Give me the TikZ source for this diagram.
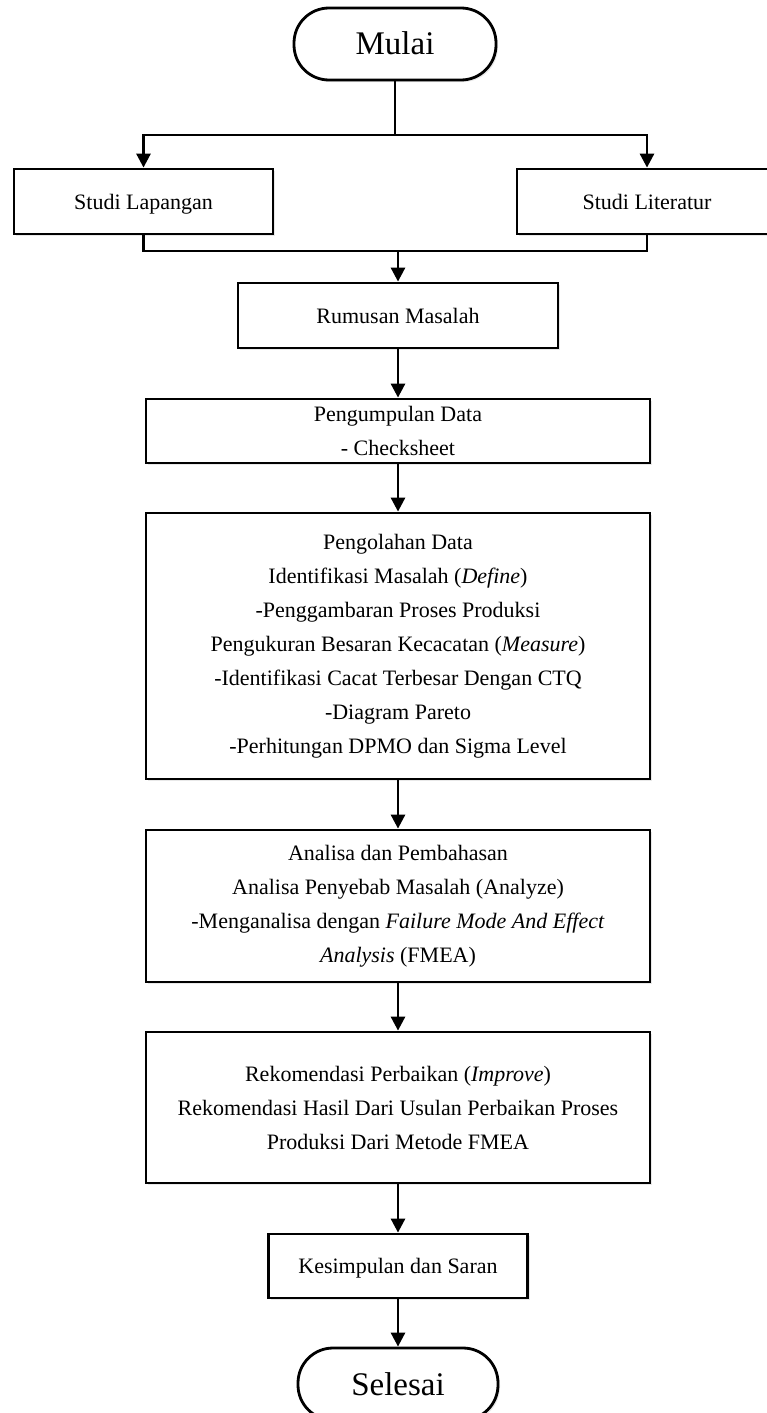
\documentclass[tikz,border=0pt]{standalone}
\usepackage{fontspec}
\setmainfont{Liberation Serif}
\usepackage{tikz}
\usetikzlibrary{arrows.meta, shadows}

\begin{document}
\begin{tikzpicture}[
    x=1pt, y=1pt,
    >={Triangle[length=14pt, width=14pt]},
    % Boxes
    terminal/.style={
        draw, fill=white, rounded corners=35pt, line width=2.8pt,
        minimum width=202pt, minimum height=72pt,
        text height=22pt, text depth=0pt,
        font=\fontsize{33}{40}\selectfont,
        drop shadow={opacity=0.18, shadow xshift=2pt, shadow yshift=-2pt}
    },
    process/.style={
        draw, fill=white, align=center, inner sep=2pt, line width=2.8pt,
        minimum width=504pt, minimum height=64pt,
        font=\fontsize{22}{34}\selectfont,
        drop shadow={opacity=0.18, shadow xshift=2pt, shadow yshift=-2pt}
    },
    oneline/.style={text height=15pt, text depth=0pt},
    % Lines
    link/.style={line width=2.8pt, line join=miter}
]

    \useasboundingbox (0,0) rectangle (766,-1413);

    % --- START ---
    \node[terminal] (mulai) at (395,-44) {Mulai};

    % --- STUDI ---
    \node[process, oneline, minimum width=259pt, minimum height=65pt] (lapangan) at (143.5,-201.5) {Studi Lapangan};
    \node[process, oneline, minimum width=260pt, minimum height=65pt] (literatur) at (647,-201.5) {Studi Literatur};

    \coordinate (split) at (395,-135);
    \coordinate (merge) at (398,-251);

    % --- MAIN STEPS ---
    \node[process, oneline, minimum width=320pt, minimum height=65pt] (rumusan) at (398,-315.5) {Rumusan Masalah};
    \node[process] (kumpul) at (398,-431) {Pengumpulan Data\\- Checksheet};
    \node[process, minimum height=266pt] (olah) at (398,-646) {Pengolahan Data\\
        Identifikasi Masalah (\textit{Define})\\
        -Penggambaran Proses Produksi\\
        Pengukuran Besaran Kecacatan (\textit{Measure})\\
        -Identifikasi Cacat Terbesar Dengan CTQ\\
        -Diagram Pareto\\
        -Perhitungan DPMO dan Sigma Level};
    \node[process, minimum height=152pt] (analisa) at (398,-906) {Analisa dan Pembahasan\\
        Analisa Penyebab Masalah (Analyze)\\
        -Menganalisa dengan \textit{Failure Mode And Effect}\\
        \textit{Analysis} (FMEA)};
    \node[process, minimum height=151pt] (rekom) at (398,-1107.5) {Rekomendasi Perbaikan (\textit{Improve})\\
        Rekomendasi Hasil Dari Usulan Perbaikan Proses\\
        Produksi Dari Metode FMEA};
    \node[process, oneline, minimum width=259pt] (simpul) at (398,-1266) {Kesimpulan dan Saran};

    % --- END ---
    \node[terminal, minimum width=200pt] (selesai) at (398,-1384) {Selesai};

    % --- CONNECTIONS ---
    \draw[link] (mulai.south) -- (split);
    \draw[link, ->] (split) -| (lapangan.north);
    \draw[link, ->] (split) -| (literatur.north);

    \draw[link] (lapangan.south) |- (merge);
    \draw[link] (literatur.south) |- (merge);
    \draw[link, ->] (merge) -- (rumusan.north);

    \foreach \a/\b in {rumusan/kumpul, kumpul/olah, olah/analisa, analisa/rekom, rekom/simpul, simpul/selesai} {
        \draw[link, ->] (\a.south) -- (\b.north);
    }

\end{tikzpicture}
\end{document}
